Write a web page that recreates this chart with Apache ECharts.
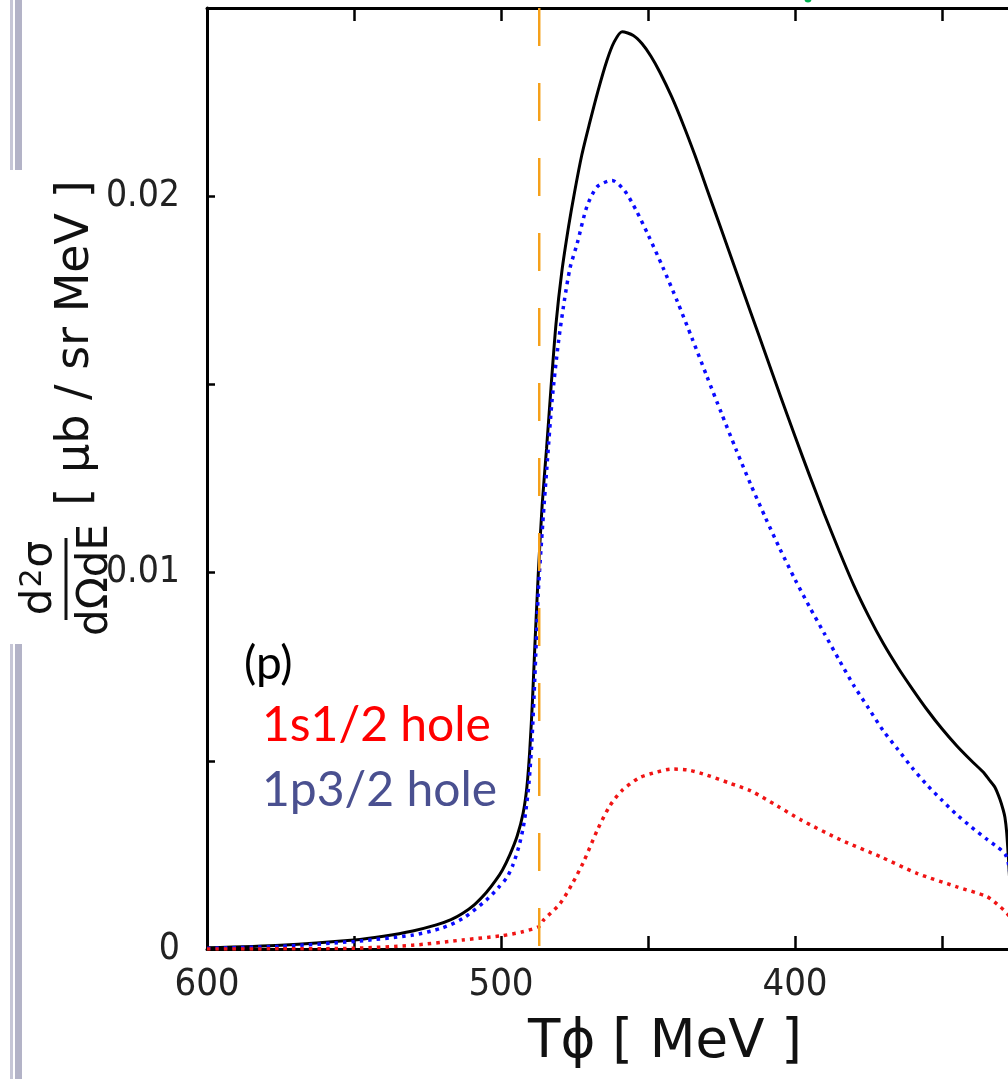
<!DOCTYPE html>
<html>
<head>
<meta charset="utf-8">
<script src="https://cdn.jsdelivr.net/npm/echarts@6/dist/echarts.min.js"></script>
<style>
html,body{margin:0;padding:0;background:#fff;overflow:hidden;}
#chart{width:1100px;height:1079px;}
</style>
</head>
<body>
<div id="chart"></div>
<script>
// T_phi [MeV] vs d2sigma/dOmega dE [ub / sr MeV]
const totalCurve = [
  [600, 0.00003], [575, 0.0001], [550, 0.00024], [540, 0.00034], [530, 0.00048],
  [522, 0.00064], [517, 0.00078], [513, 0.00095], [509, 0.00118], [505, 0.0015],
  [502, 0.0018], [499.5, 0.0021], [497, 0.0025], [494.5, 0.003], [492.5, 0.0036],
  [491.2, 0.0043], [490.2, 0.0053], [489.3, 0.0066], [488.4, 0.0082], [487.3, 0.01],
  [486.0, 0.0118], [484.5, 0.0133], [483.0, 0.0149], [481.3, 0.0166], [479.3, 0.018],
  [477, 0.0192], [475, 0.0201], [472.5, 0.0211], [470, 0.0219], [467, 0.0228],
  [464, 0.0236], [461.5, 0.0241], [458.8, 0.02437], [455, 0.02427], [452, 0.02405],
  [449, 0.02372], [446, 0.0233], [442, 0.02265], [438, 0.0219], [434, 0.02108],
  [430, 0.0202], [425, 0.0191], [420, 0.018], [415, 0.0169], [410, 0.0158],
  [405, 0.0147], [400, 0.01362], [395, 0.01257], [390, 0.01155], [385, 0.01058],
  [380, 0.00966], [375, 0.00885], [370, 0.00812], [365, 0.00748], [360, 0.0069],
  [355, 0.00635], [350, 0.00585], [345, 0.0054], [340, 0.005], [336, 0.0047],
  [334, 0.0045], [332, 0.0043], [330.3, 0.00398], [329.2, 0.0037], [328.6, 0.0035],
  [328, 0.0031], [327.4, 0.0024], [326.8, 0.0016], [326, 0.0008]
];
const p32Curve = [
  [600, 0.00002], [575, 0.00007], [550, 0.0002], [530, 0.00037], [520, 0.00056],
  [513, 0.00081], [505, 0.0013], [501, 0.00162], [498, 0.0019], [496, 0.00222],
  [494, 0.0027], [492.5, 0.0032], [491.5, 0.0037], [490.5, 0.0044], [489.5, 0.0055],
  [488.5, 0.0072], [487.3, 0.0095], [485.8, 0.0113], [484.2, 0.013], [482.6, 0.0146],
  [480.5, 0.0161], [478.5, 0.0172], [476.5, 0.0181], [474.1, 0.01874], [470.8, 0.01972],
  [467.3, 0.02025], [462.2, 0.02042], [458, 0.02015], [454, 0.01962], [450, 0.01898],
  [445, 0.01812], [440, 0.0172], [435, 0.01622], [430, 0.01522], [425, 0.01423],
  [420, 0.01326], [415, 0.01233], [410, 0.01145], [405, 0.01061], [400, 0.00982],
  [395, 0.00908], [390, 0.00838], [385, 0.00768], [380, 0.007], [375, 0.0064],
  [370, 0.0058], [365, 0.0053], [360, 0.0048], [355, 0.00435], [350, 0.00395],
  [345, 0.00357], [340, 0.00324], [335, 0.00293], [331, 0.0027], [328.5, 0.00252],
  [327.5, 0.0023], [326.5, 0.0018]
];
const s12Curve = [
  [600, 0], [575, 0.000005], [550, 0.00002], [530, 0.0001], [513, 0.00024],
  [500, 0.00035], [493, 0.00045], [487, 0.0006], [485.5, 0.00077], [480, 0.0012],
  [476, 0.0017], [472, 0.0023], [467, 0.0032], [463, 0.0038], [459, 0.0042],
  [453, 0.00455], [447, 0.0047], [442, 0.00478], [436, 0.00475], [430, 0.00462],
  [422, 0.0044], [415, 0.0042], [406, 0.0038], [398, 0.00343], [384.5, 0.0029],
  [370.9, 0.00245], [358.5, 0.00201], [344.9, 0.00165], [334.7, 0.00139], [330.2, 0.00112],
  [327.9, 0.00095], [326.5, 0.0008]
];
const thresholdLine = [[487, 0.025], [487, 0]];
const xLabelValues = [600, 500, 400];
const yLabelValues = ['0', '0.01', '0.02'];

const chart = echarts.init(document.getElementById('chart'), null, {renderer: 'canvas'});

const tickFont = "'DejaVu Sans Condensed', 'Liberation Sans Narrow', 'Liberation Sans', sans-serif";
const axisLineStyle = {color: '#000', width: 3};
const xAxisCommon = {
  type: 'value', inverse: true, min: 300, max: 600, interval: 50,
  splitLine: {show: false},
  axisLine: {show: true, onZero: false, lineStyle: axisLineStyle},
  axisTick: {show: true, inside: true, length: 13, lineStyle: {color: '#000', width: 2.5}}
};
const yAxisCommon = {
  type: 'value', min: 0, max: 0.025, interval: 0.005,
  splitLine: {show: false},
  axisLine: {show: true, onZero: false, lineStyle: axisLineStyle},
  axisTick: {show: true, inside: true, length: 8, lineStyle: {color: '#000', width: 2.5}}
};

chart.setOption({
  animation: false,
  backgroundColor: '#fff',
  grid: {left: 207, right: 11, top: 8, bottom: 130, containLabel: false, outerBoundsMode: 'none'},
  xAxis: [
    Object.assign({}, xAxisCommon, {
      position: 'bottom',
      name: 'T\u03D5 [ MeV ]',
      nameLocation: 'middle',
      nameGap: 68,
      nameTextStyle: {fontFamily: 'DejaVu Sans', fontSize: 53, color: '#111', padding: [0, 0, 0, 34]},
      axisLabel: {
        show: true, margin: 17, color: '#222',
        fontFamily: tickFont, fontSize: 38,
        formatter: v => xLabelValues.indexOf(v) >= 0 ? String(v) : ''
      }
    }),
    Object.assign({}, xAxisCommon, {position: 'top', axisLabel: {show: false}})
  ],
  yAxis: [
    Object.assign({}, yAxisCommon, {
      position: 'left',
      axisLabel: {
        show: true, margin: 27, color: '#222',
        fontFamily: tickFont, fontSize: 37,
        formatter: v => {
          const s = (Math.round(v * 1000) % 10 === 0) ? (v === 0 ? '0' : v.toFixed(2)) : '';
          return yLabelValues.indexOf(s) >= 0 ? s : '';
        }
      }
    }),
    Object.assign({}, yAxisCommon, {position: 'right', axisLabel: {show: false}})
  ],
  series: [
    {
      name: 'total', type: 'line', data: totalCurve, showSymbol: false, smooth: 0.25,
      lineStyle: {color: '#000', width: 3}, z: 3
    },
    {
      name: '1p3/2 hole', type: 'line', data: p32Curve, showSymbol: false, smooth: 0.25,
      lineStyle: {color: '#0a0aff', width: 3.5, type: [3.5, 5]}, z: 4
    },
    {
      name: '1s1/2 hole', type: 'line', data: s12Curve, showSymbol: false, smooth: 0.25,
      lineStyle: {color: '#f01414', width: 3.5, type: [3.5, 5]}, z: 4
    },
    {
      name: 'threshold', type: 'line', data: thresholdLine, showSymbol: false,
      lineStyle: {color: '#f5a01a', width: 2.5, type: [38, 37]}, z: 5
    }
  ],
  graphic: [
    {type: 'rect', shape: {x: 10, y: 0, width: 3, height: 170}, style: {fill: '#c6c6d6'}},
    {type: 'rect', shape: {x: 15, y: 0, width: 7, height: 170}, style: {fill: '#b3b3c7'}},
    {type: 'rect', shape: {x: 10, y: 644, width: 3, height: 435}, style: {fill: '#c6c6d6'}},
    {type: 'rect', shape: {x: 15, y: 644, width: 7, height: 435}, style: {fill: '#b3b3c7'}},
    {type: 'circle', shape: {cx: 808, cy: -1, r: 3.5}, style: {fill: '#00b050'}},
    // y-axis title (rotated)
    {type: 'text', x: 76, y: 343, rotation: Math.PI / 2,
     style: {text: '[ \u03BCb / sr MeV ]', fontFamily: 'DejaVu Sans', fontSize: 46, fill: '#111', align: 'center', verticalAlign: 'middle'}},
    {type: 'text', x: 40, y: 578, rotation: Math.PI / 2,
     style: {text: 'd{sup|2}\u03C3', fontFamily: 'DejaVu Sans', fontSize: 42, fill: '#111', align: 'center', verticalAlign: 'middle',
       rich: {sup: {fontFamily: 'DejaVu Sans', fontSize: 30, fill: '#111', verticalAlign: 'top', padding: [0, 1, 14, 1]}}}},
    {type: 'line', shape: {x1: 66, y1: 538, x2: 66, y2: 620}, style: {stroke: '#111', lineWidth: 3}},
    {type: 'text', x: 96, y: 580, rotation: Math.PI / 2,
     style: {text: 'd\u03A9dE', fontFamily: 'DejaVu Sans', fontSize: 42, fill: '#111', align: 'center', verticalAlign: 'middle'}},
    // in-plot labels
    {type: 'text', x: 244, y: 664,
     style: {text: '(p)', fontFamily: 'Lato', fontSize: 46, fill: '#000', align: 'left', verticalAlign: 'middle'}},
    {type: 'text', x: 262, y: 726,
     style: {text: '1s1/2 hole', fontFamily: 'Lato', fontSize: 48, fill: '#ff0000', align: 'left', verticalAlign: 'middle'}},
    {type: 'text', x: 262, y: 791,
     style: {text: '1p3/2 hole', fontFamily: 'Lato', fontSize: 48, fill: '#4a5090', align: 'left', verticalAlign: 'middle'}}
  ]
});
</script>
</body>
</html>
